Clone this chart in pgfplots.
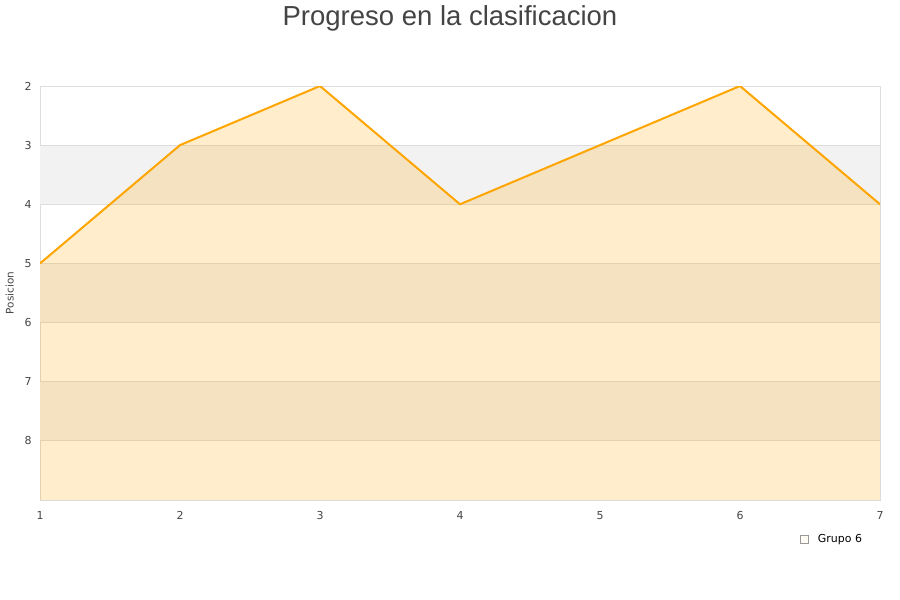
\documentclass[border=0pt]{standalone}
\usepackage{pgfplots}
\pgfplotsset{compat=1.18}
\usepackage{fontspec}
\setmainfont{DejaVu Sans}
\newfontfamily\titlefont{Liberation Sans}
\definecolor{txt}{HTML}{444444}
\definecolor{gridc}{HTML}{DDDDDD}
\definecolor{band}{HTML}{F2F2F2}
\definecolor{lineor}{HTML}{FFA500}
\begin{document}
\begin{tikzpicture}
\begin{axis}[
  at={(40bp,100bp)}, anchor=south west,
  scale only axis, width=840bp, height=414bp,
  xmin=1, xmax=7, ymin=2, ymax=9,
  y dir=reverse,
  xtick={1,...,7}, ytick={2,...,8},
  major tick length=0pt,
  axis line style={gridc},
  tick label style={font=\fontsize{11}{13}\selectfont, text=txt},
  /pgf/number format/assume math mode=true,
  xticklabel style={yshift=-8bp},
  yticklabel style={xshift=-5bp},
  ylabel={Posicion},
  ylabel style={font=\fontsize{10.5}{12}\selectfont, text=txt},
  every axis y label/.append style={at={(-0.036,0.5)}, anchor=center},
  legend style={at={(0.905,-0.094)}, anchor=west, draw=none, fill=none,
    font=\fontsize{11}{13}\selectfont, inner sep=0pt, column sep=7bp},
]
% alternating background bands
\addplot[band, fill=band, draw=none, forget plot] coordinates {(1,3) (7,3) (7,4) (1,4)} -- cycle;
\addplot[band, fill=band, draw=none, forget plot] coordinates {(1,5) (7,5) (7,6) (1,6)} -- cycle;
\addplot[band, fill=band, draw=none, forget plot] coordinates {(1,7) (7,7) (7,8) (1,8)} -- cycle;
% horizontal grid lines
\draw[gridc, line width=0.8bp] (axis cs:1,3) -- (axis cs:7,3);
\draw[gridc, line width=0.8bp] (axis cs:1,4) -- (axis cs:7,4);
\draw[gridc, line width=0.8bp] (axis cs:1,5) -- (axis cs:7,5);
\draw[gridc, line width=0.8bp] (axis cs:1,6) -- (axis cs:7,6);
\draw[gridc, line width=0.8bp] (axis cs:1,7) -- (axis cs:7,7);
\draw[gridc, line width=0.8bp] (axis cs:1,8) -- (axis cs:7,8);
% position area down to the bottom edge
\addplot[fill=lineor, fill opacity=0.2, draw=none,
  legend image code/.code={\draw[draw=gray!80, fill=lineor!20, line width=0.6bp] (0bp,-4bp) rectangle (8bp,4bp);}]
  coordinates {(1,5) (2,3) (3,2) (4,4) (5,3) (6,2) (7,4) (7,9) (1,9)} -- cycle;
\addlegendentry{Grupo 6}
\addplot[lineor, line width=2bp, forget plot] coordinates {(1,5) (2,3) (3,2) (4,4) (5,3) (6,2) (7,4)};
\end{axis}
\node[font=\titlefont\fontsize{27.6}{30}\selectfont, text=txt] at (450bp,582bp) {Progreso en la clasificacion};
\pgfresetboundingbox
\path[use as bounding box] (0bp,0bp) rectangle (900bp,600bp);
\end{tikzpicture}
\end{document}
